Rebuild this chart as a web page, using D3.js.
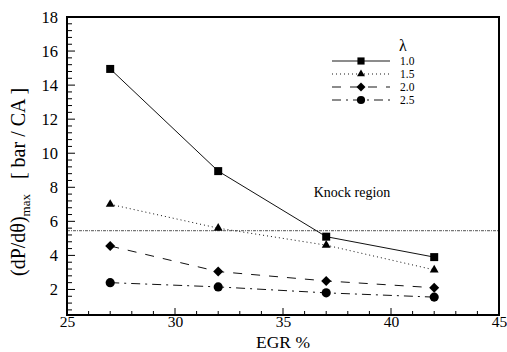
<!DOCTYPE html>
<html><head><meta charset="utf-8">
<script src="https://cdn.jsdelivr.net/npm/d3@7"></script>
<style>body{margin:0;background:#fff}svg{display:block}svg text{font-family:"Liberation Serif","Tinos","Times New Roman","DejaVu Serif" !important}</style>
</head><body><svg id="c" width="507" height="352"></svg>
<script>
const egr = [27, 32, 37, 42];
const lambda10 = [14.95, 8.95, 5.1, 3.9];
const lambda15 = [7.0, 5.6, 4.6, 3.15];
const lambda20 = [4.55, 3.05, 2.5, 2.1];
const lambda25 = [2.4, 2.15, 1.8, 1.55];
const seriesNames = ["1.0", "1.5", "2.0", "2.5"];
const knockLevel = 5.45;
const xTicks = [25, 30, 35, 40, 45];
const yTicks = [2, 4, 6, 8, 10, 12, 14, 16, 18];

const FONT = '"Liberation Serif","Tinos","Times New Roman","DejaVu Serif"';
const svg = d3.select("#c");
const L = 67, R = 499, T = 17, B = 315;
const x = d3.scaleLinear().domain([25, 45]).range([L, R]);
const y = d3.scaleLinear().domain([0.5, 18]).range([B, T]);

const diamond = {draw(ctx, size) { const r = Math.sqrt(size / 2); ctx.moveTo(0, -r); ctx.lineTo(r, 0); ctx.lineTo(0, r); ctx.lineTo(-r, 0); ctx.closePath(); }};

const series = [
  {name: seriesNames[0], vals: lambda10, dash: null, sym: d3.symbolSquare, size: 64},
  {name: seriesNames[1], vals: lambda15, dash: "1,3", sym: d3.symbolTriangle, size: 34},
  {name: seriesNames[2], vals: lambda20, dash: "9,9", sym: diamond, size: 50},
  {name: seriesNames[3], vals: lambda25, dash: "9,5,2,5", sym: d3.symbolCircle, size: 66}
];

const xMinor = d3.range(25, 45.01, 1);
svg.append("g").selectAll("line").data(xMinor).join("line")
  .attr("x1", d => x(d)).attr("x2", d => x(d))
  .attr("y1", B).attr("y2", d => B - (d % 5 === 0 ? 7 : 4))
  .attr("stroke", "#000").attr("stroke-width", 1);
const yMinor = d3.range(0.8, 18.01, 0.4);
svg.append("g").selectAll("line").data(yMinor).join("line")
  .attr("y1", d => y(d)).attr("y2", d => y(d))
  .attr("x1", L).attr("x2", d => L + (Math.abs(d/2 - Math.round(d/2)) < 0.01 ? 8 : 5))
  .attr("stroke", "#000").attr("stroke-width", 1);

const xAxis = svg.append("g").attr("transform", `translate(0,${B})`)
  .call(d3.axisBottom(x).tickValues(xTicks).tickSize(0).tickPadding(1).tickFormat(d3.format("d")));
xAxis.attr("font-family", FONT);
xAxis.select(".domain").remove();
xAxis.selectAll("text").attr("font-size", 15.5).attr("fill", "#000");
const yAxis = svg.append("g").attr("transform", `translate(${L},0)`)
  .call(d3.axisLeft(y).tickValues(yTicks).tickSize(0).tickPadding(9).tickFormat(d3.format("d")));
yAxis.attr("font-family", FONT);
yAxis.select(".domain").remove();
yAxis.selectAll("text").attr("font-size", 16.5).attr("fill", "#000");

svg.append("line").attr("x1", L).attr("x2", R).attr("y1", y(knockLevel)).attr("y2", y(knockLevel))
  .attr("stroke", "#555").attr("stroke-width", 1).attr("stroke-dasharray", "3,1,1,1");
svg.append("text").attr("x", 352).attr("y", 197).attr("text-anchor", "middle")
  .attr("font-size", 14).text("Knock region");

const line = d3.line().x((d, i) => x(egr[i])).y(d => y(d));
series.forEach(s => {
  svg.append("path").attr("d", line(s.vals)).attr("fill", "none").attr("stroke", "#111")
    .attr("stroke-width", 1).attr("stroke-dasharray", s.dash);
  svg.append("g").selectAll("path").data(s.vals).join("path")
    .attr("transform", (d, i) => `translate(${x(egr[i])},${y(d)})`)
    .attr("d", d3.symbol(s.sym, s.size)).attr("fill", "#000");
});

svg.append("text").attr("x", 403).attr("y", 51).attr("text-anchor", "middle").attr("font-size", 16).text("λ");
series.forEach((s, i) => {
  const ly = 61 + i * 13;
  svg.append("line").attr("x1", 332).attr("x2", 390).attr("y1", ly).attr("y2", ly)
    .attr("stroke", "#666").attr("stroke-width", 1.5).attr("stroke-dasharray", s.dash);
  svg.append("path").attr("transform", `translate(361,${ly})`).attr("d", d3.symbol(s.sym, s.size * 0.8)).attr("fill", "#000");
  svg.append("text").attr("x", 400).attr("y", ly + 4).attr("font-size", 11.5).text(s.name);
});

svg.append("rect").attr("x", L).attr("y", T).attr("width", R - L).attr("height", B - T)
  .attr("fill", "none").attr("stroke", "#000").attr("stroke-width", 2);

svg.append("text").attr("x", 283).attr("y", 347.5).attr("text-anchor", "middle").attr("font-size", 17.5).text("EGR %");
const yt = svg.append("text").attr("transform", "translate(25,182) rotate(-90)").attr("text-anchor", "middle").attr("font-size", 20);
yt.append("tspan").text("(dP/dθ)");
yt.append("tspan").attr("font-size", 13).attr("dy", 5).text("max");
yt.append("tspan").attr("dy", -5).text("\u00a0\u00a0\u00a0[ bar / CA ]");
</script></body></html>
